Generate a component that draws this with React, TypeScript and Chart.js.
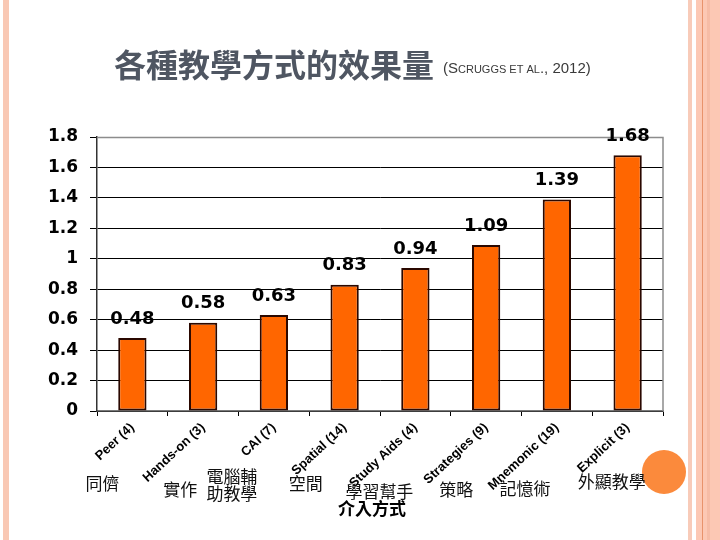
import React, { useEffect, useRef } from "react";
import { Chart, registerables } from "chart.js";

Chart.register(...registerables);

// ---- data ----
const categories = [
  "Peer (4)",
  "Hands-on (3)",
  "CAI (7)",
  "Spatial (14)",
  "Study Aids (4)",
  "Strategies (9)",
  "Mnemonic (19)",
  "Explicit (3)",
];
const chineseLabels = [
  ["同儕"],
  ["實作"],
  ["電腦輔", "助教學"],
  ["空間"],
  ["學習幫手"],
  ["策略"],
  ["記憶術"],
  ["外顯教學"],
];
const effectSizes = [0.48, 0.58, 0.63, 0.83, 0.94, 1.09, 1.39, 1.68];
const yMin = 0;
const yMax = 1.8;
const yStep = 0.2;
const titleMain = "各種教學方式的效果量";
const titleRefParts = [
  { t: "(S", small: false },
  { t: "CRUGGS ET AL", small: true },
  { t: "., 2012)", small: false },
];
const axisTitle = "介入方式";

// ---- layout of the Chinese annotation labels (offset from category centre) ----
const zhLayout = [
  { dx: -30, y: 484 },
  { dx: -23, y: 490 },
  { dx: -42, y: 477 },
  { dx: -39, y: 484 },
  { dx: -36, y: 492 },
  { dx: -30, y: 490 },
  { dx: -32, y: 489 },
  { dx: -16, y: 482 },
];

const CJK = '"Noto Sans CJK TC", "Noto Sans CJK SC", sans-serif';
const BOLDNUM = '"DejaVu Sans", sans-serif';
const ARIAL = '"Liberation Sans", Arial, sans-serif';

const decorPlugin = {
  id: "decor",
  beforeDraw(chart: any) {
    const ctx = chart.ctx;
    ctx.save();
    ctx.fillStyle = "#ffffff";
    ctx.fillRect(0, 0, chart.width, chart.height);
    // left strip
    ctx.fillStyle = "#f9c8b4";
    ctx.fillRect(3, 0, 6, chart.height);
    // right strips
    ctx.fillStyle = "#f8cbb9";
    ctx.fillRect(688, 0, 4, chart.height);
    ctx.fillStyle = "#fcc8b4";
    ctx.fillRect(696, 0, 24, chart.height);
    ctx.fillStyle = "#f6bca6";
    ctx.fillRect(707, 0, 3, chart.height);
    ctx.fillStyle = "#e8936c";
    ctx.fillRect(702, 0, 1, chart.height);
    // orange circle
    ctx.fillStyle = "#fb8a3c";
    ctx.beginPath();
    ctx.arc(664, 472, 22, 0, Math.PI * 2);
    ctx.fill();

    // title
    ctx.fillStyle = "#4f5662";
    ctx.textBaseline = "alphabetic";
    ctx.textAlign = "left";
    ctx.font = `bold 32px ${CJK}`;
    ctx.fillText(titleMain, 114, 77);
    let x = 443;
    ctx.fillStyle = "#3a3a3a";
    for (const p of titleRefParts) {
      ctx.font = p.small ? `11px ${ARIAL}` : `15px ${ARIAL}`;
      ctx.fillText(p.t, x, 73);
      x += ctx.measureText(p.t).width;
    }
    ctx.restore();
  },
  afterDatasetsDraw(chart: any) {
    const ctx = chart.ctx;
    const a = chart.chartArea;
    ctx.save();
    // gray top & right frame
    ctx.strokeStyle = "#8c8c8c";
    ctx.lineWidth = 1.5;
    ctx.beginPath();
    ctx.moveTo(a.left, a.top + 0.5);
    ctx.lineTo(a.right, a.top + 0.5);
    ctx.lineTo(a.right, a.bottom);
    ctx.stroke();

    // value labels
    const meta = chart.getDatasetMeta(0);
    ctx.fillStyle = "#000";
    ctx.font = `bold 18px ${BOLDNUM}`;
    ctx.textAlign = "center";
    ctx.textBaseline = "middle";
    meta.data.forEach((bar: any, i: number) => {
      ctx.fillText(effectSizes[i].toFixed(2), bar.x, bar.y - 19);
    });

    // Chinese annotations
    const xs = chart.scales.x;
    ctx.font = `17px ${CJK}`;
    ctx.fillStyle = "#111";
    chineseLabels.forEach((lines, i) => {
      const cx = xs.getPixelForValue(i) + zhLayout[i].dx;
      lines.forEach((ln, j) => {
        ctx.fillText(ln, cx, zhLayout[i].y + j * 17);
      });
    });
    // axis title
    ctx.font = `bold 17px ${CJK}`;
    ctx.fillStyle = "#000";
    ctx.fillText(axisTitle, (a.left + a.right) / 2 - 8, 509);
    ctx.restore();
  },
};

export default function App() {
  const ref = useRef<HTMLCanvasElement | null>(null);
  useEffect(() => {
    if (!ref.current) return;
    const chart = new Chart(ref.current, {
      type: "bar",
      data: {
        labels: categories,
        datasets: [
          {
            data: effectSizes,
            backgroundColor: "#ff6600",
            borderColor: "#2a0800",
            borderWidth: 2,
            borderSkipped: false,
            barPercentage: 0.4,
            categoryPercentage: 1,
          },
        ],
      },
      options: {
        responsive: false,
        animation: false,
        layout: { padding: { left: 0, right: 57, top: 137, bottom: 0 } },
        plugins: {
          legend: { display: false },
          title: { display: false },
          tooltip: { enabled: false },
        },
        scales: {
          x: {
            grid: {
              display: true,
              drawOnChartArea: false,
              offset: true,
              tickLength: 5,
              color: "#000",
            },
            border: { display: true, color: "#7a7a7a", width: 1.5 },
            ticks: {
              color: "#000",
              font: { family: ARIAL, size: 13, weight: "bold" },
              minRotation: 43,
              maxRotation: 43,
              padding: 4,
              autoSkip: false,
            },
            afterFit(scale: any) {
              scale.height = 129;
            },
          },
          y: {
            min: yMin,
            max: yMax,
            grid: { color: "#000", lineWidth: 1, tickLength: 7 },
            border: { display: true, color: "#333", width: 1.5 },
            ticks: {
              stepSize: yStep,
              color: "#000",
              padding: 12,
              font: { family: BOLDNUM, size: 17, weight: "bold" },
              callback: (v: any) => String(Number(Number(v).toFixed(1))),
            },
            afterFit(scale: any) {
              scale.width = 97;
            },
          },
        },
      },
      plugins: [decorPlugin],
    });
    return () => chart.destroy();
  }, []);
  return (
    <div style={{ position: "fixed", left: 0, top: 0, width: 720, height: 540 }}>
      <canvas ref={ref} width={720} height={540} style={{ display: "block" }} />
    </div>
  );
}
